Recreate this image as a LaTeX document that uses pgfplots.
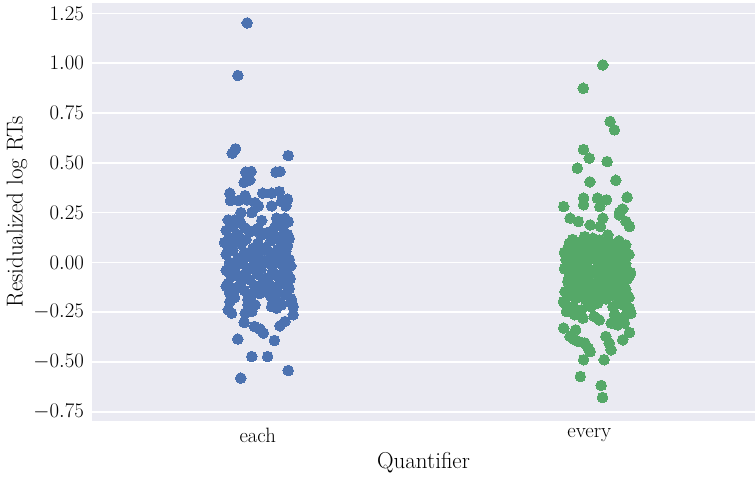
\documentclass[border=0pt]{standalone}
\usepackage{pgfplots}
\usepackage{pgfplotstable}
\pgfplotsset{compat=1.18}
\definecolor{sbbg}{HTML}{EAEAF2}
\definecolor{sbblue}{HTML}{4C72B0}
\definecolor{sbgreen}{HTML}{55A868}
\pgfplotstableread{
x y
-0.032 1.202
-0.060 0.938
-0.067 0.570
-0.077 0.548
0.092 0.536
-0.036 0.453
-0.020 0.456
0.055 0.453
0.067 0.456
-0.041 0.402
-0.024 0.414
-0.084 0.347
-0.038 0.335
0.015 0.347
0.042 0.347
0.065 0.355
-0.082 0.310
-0.059 0.310
-0.033 0.314
-0.008 0.300
0.002 0.283
0.042 0.283
0.072 0.305
0.090 0.317
0.085 0.283
-0.051 0.250
-0.018 0.250
-0.089 0.213
-0.069 0.213
-0.054 0.205
0.012 0.210
0.057 0.222
0.082 0.222
0.092 0.205
-0.075 0.178
-0.038 0.173
0.052 0.178
0.076 0.178
-0.095 0.160
-0.020 0.155
0.030 0.150
0.080 0.148
-0.060 0.140
0.010 0.135
0.055 0.130
-0.085 0.125
0.095 0.120
-0.035 0.115
0.040 0.110
-0.070 0.105
0.070 0.100
0.000 0.095
-0.050 0.090
0.090 0.085
-0.090 0.080
0.025 0.075
-0.015 0.070
0.060 0.065
-0.075 0.060
0.085 0.055
-0.040 0.050
0.035 0.048
0.005 0.045
-0.095 0.040
0.075 0.035
-0.025 0.030
0.050 0.025
-0.060 0.020
0.095 0.015
-0.005 0.010
0.020 0.005
-0.085 0.000
0.065 -0.003
-0.045 -0.008
0.040 -0.012
0.100 -0.018
-0.015 -0.022
-0.070 -0.028
0.080 -0.032
0.010 -0.036
-0.095 -0.040
0.045 -0.045
-0.035 -0.050
0.090 -0.055
0.000 -0.060
-0.060 -0.064
0.060 -0.068
-0.080 -0.072
0.030 -0.078
0.098 -0.082
-0.025 -0.087
-0.050 -0.092
0.070 -0.097
0.015 -0.102
-0.090 -0.107
0.085 -0.112
-0.010 -0.117
0.045 -0.122
-0.065 -0.127
0.095 -0.132
0.025 -0.137
-0.040 -0.142
0.060 -0.147
-0.085 -0.152
0.005 -0.157
0.080 -0.162
-0.020 -0.167
0.040 -0.172
-0.070 -0.177
0.100 -0.182
-0.030 -0.187
0.055 -0.190
0.000 0.170
0.090 0.140
0.010 0.060
-0.075 -0.010
0.090 -0.100
0.030 -0.150
0.085 0.030
-0.095 -0.120
-0.100 0.100
0.075 -0.060
-0.084 -0.197
-0.089 -0.238
-0.079 -0.255
-0.029 -0.213
-0.008 -0.213
-0.038 -0.255
-0.018 -0.247
0.042 -0.222
0.072 -0.213
0.102 -0.197
0.107 -0.222
0.057 -0.230
0.107 -0.263
0.082 -0.297
0.067 -0.319
-0.041 -0.302
-0.010 -0.322
0.007 -0.335
0.017 -0.355
-0.060 -0.385
0.050 -0.392
-0.018 -0.473
0.030 -0.473
0.092 -0.543
-0.051 -0.581
}\eachdata
\pgfplotstableread{
x y
1.041 0.991
0.982 0.874
1.063 0.707
1.076 0.665
0.983 0.566
1.000 0.523
1.054 0.506
0.964 0.473
1.002 0.404
1.080 0.412
0.983 0.322
0.983 0.289
1.025 0.322
1.032 0.280
1.052 0.314
1.114 0.327
0.923 0.280
1.101 0.268
1.091 0.252
1.091 0.238
1.111 0.205
1.121 0.180
0.942 0.222
0.967 0.205
1.003 0.188
1.041 0.222
1.034 0.180
1.056 0.138
0.986 0.129
1.011 0.121
0.927 -0.147
0.922 -0.197
0.950 0.115
1.030 0.112
1.090 0.108
0.975 0.104
1.060 0.100
0.940 0.096
1.010 0.092
1.110 0.088
0.960 0.084
1.045 0.080
1.080 0.076
0.990 0.072
0.935 0.068
1.025 0.064
1.100 0.060
0.970 0.056
1.055 0.052
1.005 0.048
0.945 0.044
1.120 0.040
1.035 0.036
0.980 0.032
1.075 0.028
0.955 0.024
1.015 0.020
1.095 0.016
0.930 0.012
1.050 0.008
0.995 0.004
1.065 0.000
0.965 -0.004
1.110 -0.008
1.030 -0.012
0.945 -0.016
1.085 -0.020
0.985 -0.024
1.045 -0.028
0.925 -0.032
1.100 -0.036
1.010 -0.040
0.960 -0.044
1.070 -0.048
1.125 -0.052
0.975 -0.056
1.040 -0.060
0.940 -0.064
1.090 -0.068
1.000 -0.072
0.955 -0.076
1.060 -0.080
1.115 -0.084
0.985 -0.088
1.030 -0.092
0.935 -0.096
1.080 -0.100
1.005 -0.104
0.965 -0.108
1.100 -0.112
1.045 -0.116
0.945 -0.120
1.020 -0.124
1.070 -0.128
0.975 -0.132
1.110 -0.136
1.000 -0.140
0.950 -0.144
1.055 -0.148
1.090 -0.152
0.980 -0.156
1.035 -0.160
0.940 -0.164
1.075 -0.168
1.010 -0.172
1.120 -0.176
0.960 -0.180
1.050 -0.184
0.990 -0.188
1.095 -0.192
1.025 -0.196
1.070 0.090
0.925 0.050
1.040 0.010
1.065 -0.030
1.120 -0.070
0.990 -0.110
1.110 -0.150
1.060 0.070
0.940 -0.002
1.050 -0.090
1.005 -0.130
0.950 -0.170
1.000 0.030
1.015 -0.050
1.075 -0.115
1.000 0.100
1.110 0.020
0.990 -0.060
1.085 -0.140
1.020 -0.185
0.927 -0.205
0.952 -0.222
0.931 -0.247
0.956 -0.263
0.981 -0.280
0.977 -0.238
1.005 -0.222
1.025 -0.205
1.015 -0.272
1.030 -0.289
1.071 -0.222
1.101 -0.213
1.121 -0.230
1.076 -0.263
1.091 -0.280
1.111 -0.263
1.066 -0.305
1.086 -0.314
1.106 -0.305
1.126 -0.255
0.923 -0.330
0.959 -0.339
0.942 -0.372
0.952 -0.385
0.967 -0.397
0.987 -0.405
0.997 -0.431
1.003 -0.448
1.050 -0.372
1.060 -0.405
1.066 -0.439
1.101 -0.389
1.121 -0.352
0.983 -0.489
1.045 -0.489
0.973 -0.573
1.036 -0.618
1.040 -0.678
}\everydata
\begin{document}
\begin{tikzpicture}
\begin{axis}[
  name=ax,
  scale only axis,
  width=663pt, height=417.7pt,
  xmin=-0.5, xmax=1.5,
  ymin=-0.795, ymax=1.302,
  xtick={0,1}, xticklabels={each,every},
  ytick={-0.75,-0.5,-0.25,0,0.25,0.5,0.75,1,1.25},
  yticklabel style={/pgf/number format/fixed, /pgf/number format/fixed zerofill, /pgf/number format/precision=2, anchor=east, inner sep=0pt, xshift=-8pt},
  axis background/.style={fill=sbbg},
  axis line style={draw=none},
  major tick length=0pt,
  tick style={draw=none},
  ymajorgrids,
  grid style={white, line width=1.6pt},
  ticklabel style={font=\fontsize{20.74}{24}\selectfont},
  xticklabel style={anchor=north, inner sep=0pt, yshift=-7.6pt},
  xlabel={Quantifier},
  ylabel={Residualized log RTs},
  label style={font=\fontsize{23}{27}\selectfont},
  xlabel style={at={(axis description cs:0.5,0)}, anchor=center, yshift=-42pt},
  ylabel style={at={(axis description cs:0,0.5)}, anchor=center, yshift=75pt},
  clip=false,
]
\addplot[only marks, mark=*, mark size=5.3pt, mark options={fill=sbblue, draw=sbblue, line width=0pt}] table[x=x,y=y] {\eachdata};
\addplot[only marks, mark=*, mark size=5.3pt, mark options={fill=sbgreen, draw=sbgreen, line width=0pt}] table[x=x,y=y] {\everydata};
\end{axis}
\pgfresetboundingbox
\path ([xshift=-92pt,yshift=-58.3pt]ax.south west) rectangle ([yshift=3pt]ax.north east);
\end{tikzpicture}
\end{document}
